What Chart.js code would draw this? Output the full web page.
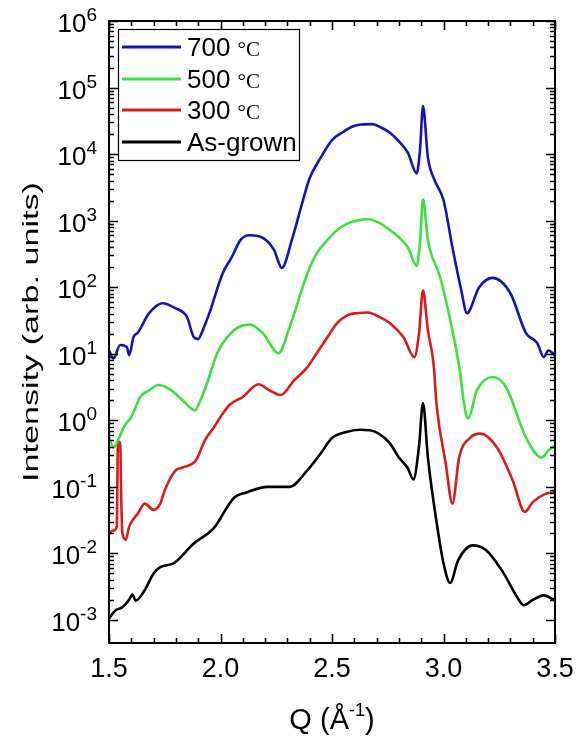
<!DOCTYPE html>
<html>
<head>
<meta charset="utf-8">
<script src="https://cdn.jsdelivr.net/npm/chart.js@4.4.1/dist/chart.umd.min.js"></script>
<style>
  body { margin: 0; background: #fff; }
  canvas { display: block; }
</style>
</head>
<body>
<canvas id="xrd" width="577" height="737"></canvas>
<script>
// values (Q in 1/Angstrom, intensity in arb. units)
const seriesLabels = ['700 °C', '500 °C', '300 °C', 'As-grown'];
const seriesColors = ['#1414b4', '#3ee03e', '#d81c1c', '#000000'];

const q700 = [1.50, 1.52, 1.55, 1.58, 1.59, 1.61, 1.63, 1.68, 1.74, 1.80, 1.85, 1.88, 1.90, 1.92, 1.95, 2.01, 2.05, 2.09, 2.13, 2.19, 2.24, 2.275, 2.32, 2.37, 2.40, 2.45, 2.50, 2.55, 2.59, 2.63, 2.68, 2.72, 2.76, 2.80, 2.84, 2.88, 2.895, 2.908, 2.93, 2.96, 3.00, 3.04, 3.08, 3.105, 3.16, 3.22, 3.30, 3.37, 3.42, 3.45, 3.47, 3.50];
const i700 = [11.2, 8.5, 13.5, 12.6, 9.5, 17.8, 20.9, 40.7, 57.5, 47.9, 35.5, 17.8, 16.6, 22.4, 40.7, 162, 280, 513, 603, 550, 363, 195, 513, 2040, 4370, 8900, 16200, 21500, 25700, 27800, 28200, 25100, 20900, 15500, 10500, 5130, 12000, 52500, 8910, 4070, 2040, 398, 89, 40.7, 100, 138, 81, 20.4, 14.5, 8.9, 11.2, 9.5];

const q500 = [1.50, 1.52, 1.54, 1.57, 1.60, 1.64, 1.68, 1.72, 1.78, 1.83, 1.885, 1.91, 1.94, 1.985, 2.03, 2.08, 2.13, 2.19, 2.26, 2.31, 2.39, 2.43, 2.48, 2.52, 2.57, 2.61, 2.66, 2.71, 2.76, 2.80, 2.84, 2.88, 2.895, 2.908, 2.93, 2.985, 3.04, 3.075, 3.09, 3.11, 3.15, 3.22, 3.28, 3.37, 3.44, 3.47, 3.50];
const i500 = [0.54, 0.39, 0.50, 0.83, 1.12, 2.24, 2.82, 3.39, 2.82, 2.0, 1.41, 2.0, 3.63, 10.2, 17.8, 25, 27.5, 20.4, 10.2, 25.1, 162, 316, 513, 708, 912, 1000, 1050, 933, 724, 562, 398, 209, 500, 2090, 513, 141, 22.4, 5.1, 2.0, 1.07, 2.82, 4.47, 3.16, 0.55, 0.275, 0.35, 0.42];

const q300 = [1.50, 1.52, 1.535, 1.54, 1.55, 1.555, 1.56, 1.575, 1.59, 1.63, 1.66, 1.70, 1.73, 1.75, 1.80, 1.83, 1.89, 1.93, 1.97, 2.00, 2.04, 2.10, 2.17, 2.22, 2.27, 2.33, 2.39, 2.43, 2.48, 2.52, 2.57, 2.61, 2.66, 2.71, 2.76, 2.82, 2.87, 2.89, 2.908, 2.93, 2.955, 2.97, 3.01, 3.04, 3.07, 3.12, 3.165, 3.24, 3.31, 3.365, 3.40, 3.46, 3.50];
const i300 = [0.020, 0.022, 0.025, 0.47, 0.47, 0.063, 0.020, 0.016, 0.025, 0.040, 0.056, 0.045, 0.056, 0.089, 0.178, 0.195, 0.25, 0.50, 0.78, 1.12, 1.70, 2.24, 3.47, 2.82, 2.40, 3.98, 6.3, 10, 17.8, 28, 38, 40.7, 41.7, 36, 28.8, 17.8, 8.9, 20, 89, 22.4, 7.2, 1.58, 0.224, 0.056, 0.275, 0.55, 0.63, 0.39, 0.126, 0.042, 0.059, 0.079, 0.083];

const qAs = [1.50, 1.53, 1.56, 1.59, 1.605, 1.62, 1.66, 1.70, 1.73, 1.79, 1.88, 1.97, 2.06, 2.12, 2.21, 2.31, 2.39, 2.45, 2.50, 2.56, 2.625, 2.67, 2.71, 2.76, 2.80, 2.84, 2.865, 2.89, 2.908, 2.93, 2.97, 3.00, 3.03, 3.065, 3.13, 3.19, 3.27, 3.33, 3.36, 3.40, 3.45, 3.50];
const iAs = [0.00105, 0.0014, 0.00155, 0.0020, 0.0024, 0.00195, 0.0028, 0.0050, 0.0062, 0.0071, 0.0141, 0.024, 0.068, 0.083, 0.100, 0.100, 0.178, 0.32, 0.54, 0.66, 0.72, 0.71, 0.63, 0.45, 0.275, 0.19, 0.129, 0.4, 1.82, 0.275, 0.028, 0.0071, 0.0036, 0.0078, 0.0132, 0.0112, 0.0050, 0.0022, 0.00166, 0.0020, 0.00234, 0.00195];

const xTicks = [1.5, 2.0, 2.5, 3.0, 3.5];
const yDecades = [-3, -2, -1, 0, 1, 2, 3, 4, 5, 6];

const qSets = [q700, q500, q300, qAs];
const iSets = [i700, i500, i300, iAs];

const sans = '"Liberation Sans", Arial, sans-serif';
const serif = '"Liberation Serif", "Times New Roman", serif';

function toPoints(qs, is) {
    return qs.map((q, k) => ({ x: q, y: is[k] }));
}

// frame, inward ticks, labels, titles and legend
const decorations = {
    id: 'decorations',
    afterDraw(chart) {
        const ctx = chart.ctx;
        const a = chart.chartArea;
        const xs = chart.scales.x;
        const ys = chart.scales.y;
        ctx.save();
        ctx.strokeStyle = '#000';
        ctx.fillStyle = '#000';
        ctx.lineWidth = 2;
        ctx.strokeRect(a.left, a.top, a.right - a.left, a.bottom - a.top);

        // x ticks every 0.1, major every 0.5
        ctx.beginPath();
        for (let k = 0; k <= 20; k++) {
            const v = 1.5 + k * 0.1;
            const px = Math.round(xs.getPixelForValue(v)) + 0.5;
            const len = k % 5 === 0 ? 9 : 5;
            ctx.moveTo(px, a.bottom); ctx.lineTo(px, a.bottom - len);
            ctx.moveTo(px, a.top); ctx.lineTo(px, a.top + len);
        }
        // y ticks, decades and 2..9
        yDecades.forEach(d => {
            for (let m = 1; m <= 9; m++) {
                const v = m * Math.pow(10, d);
                if (v < ys.min || v > ys.max) continue;
                const py = Math.round(ys.getPixelForValue(v)) + 0.5;
                const len = m === 1 ? 9 : 5;
                ctx.moveTo(a.left, py); ctx.lineTo(a.left + len, py);
                ctx.moveTo(a.right, py); ctx.lineTo(a.right - len, py);
            }
        });
        ctx.lineWidth = 1.6;
        ctx.stroke();

        // x tick labels
        ctx.font = '27px ' + sans;
        ctx.textAlign = 'center';
        ctx.textBaseline = 'alphabetic';
        xTicks.forEach(v => {
            ctx.fillText(v.toFixed(1), xs.getPixelForValue(v), a.bottom + 34);
        });

        // y tick labels: 10 with superscript exponent
        yDecades.forEach(d => {
            const py = ys.getPixelForValue(Math.pow(10, d));
            ctx.font = '26px ' + sans;
            const wBase = ctx.measureText('10').width;
            ctx.font = '19px ' + sans;
            const exp = d < 0 ? '-' + (-d) : String(d);
            const wExp = ctx.measureText(exp).width;
            const x0 = 97 - wBase - wExp;
            ctx.textAlign = 'left';
            ctx.font = '26px ' + sans;
            ctx.fillText('10', x0, py + 11);
            ctx.font = '19px ' + sans;
            ctx.fillText(exp, x0 + wBase, py);
        });

        // x title: Q (Å^-1)
        ctx.font = '29px ' + sans;
        const p1 = 'Q (Å', p3 = ')';
        const w1 = ctx.measureText(p1).width, w3 = ctx.measureText(p3).width;
        ctx.font = '18px ' + sans;
        const w2 = ctx.measureText('-1').width;
        let tx = (a.left + a.right) / 2 - (w1 + w2 + w3) / 2;
        ctx.textAlign = 'left';
        ctx.font = '29px ' + sans;
        ctx.fillText(p1, tx, 729);
        ctx.font = '18px ' + sans;
        ctx.fillText('-1', tx + w1, 716);
        ctx.font = '29px ' + sans;
        ctx.fillText(p3, tx + w1 + w2, 729);

        // y title, stretched along its length like the original
        ctx.save();
        ctx.font = '22px ' + sans;
        const yt = 'Intensity (arb. units)';
        const wt = ctx.measureText(yt).width;
        ctx.translate(38, (a.top + a.bottom) / 2);
        ctx.rotate(-Math.PI / 2);
        ctx.scale(300 / wt, 1);
        ctx.textAlign = 'center';
        ctx.fillText(yt, 0, 0);
        ctx.restore();

        // legend
        ctx.lineWidth = 1.2;
        ctx.strokeStyle = '#000';
        ctx.fillStyle = '#fff';
        ctx.fillRect(118, 29, 181, 131);
        ctx.strokeRect(118.5, 29.5, 181, 131);
        const rows = [47, 79, 110, 142];
        chart.data.datasets.forEach((ds, k) => {
            const ry = rows[k];
            ctx.beginPath();
            ctx.strokeStyle = ds.borderColor;
            ctx.lineWidth = 3;
            ctx.moveTo(122, ry); ctx.lineTo(181, ry);
            ctx.stroke();
            ctx.fillStyle = '#000';
            ctx.textAlign = 'left';
            let label = ds.label;
            if (label.endsWith('°C')) {
                const num = label.slice(0, -2);
                ctx.font = '26px ' + sans;
                ctx.fillText(num, 187, ry + 9);
                const wn = ctx.measureText(num).width;
                ctx.font = '21px ' + serif;
                ctx.fillText('°C', 187 + wn, ry + 9);
            } else {
                ctx.font = '26px ' + sans;
                ctx.fillText(label, 187, ry + 9);
            }
        });
        ctx.restore();
    }
};

const ctx = document.getElementById('xrd').getContext('2d');
new Chart(ctx, {
    type: 'scatter',
    data: {
        datasets: seriesLabels.map((lab, k) => ({
            label: lab,
            data: toPoints(qSets[k], iSets[k]),
            showLine: true,
            borderColor: seriesColors[k],
            backgroundColor: seriesColors[k],
            borderWidth: 2.6,
            pointRadius: 0,
            cubicInterpolationMode: 'monotone'
        }))
    },
    options: {
        responsive: false,
        animation: false,
        layout: { padding: { left: 109, right: 22, top: 21, bottom: 94 } },
        plugins: {
            legend: { display: false },
            tooltip: { enabled: false }
        },
        scales: {
            x: { type: 'linear', min: 1.5, max: 3.5, display: false },
            y: { type: 'logarithmic', min: 4.5e-4, max: 1e6, display: false }
        }
    },
    plugins: [decorations]
});
</script>
</body>
</html>
